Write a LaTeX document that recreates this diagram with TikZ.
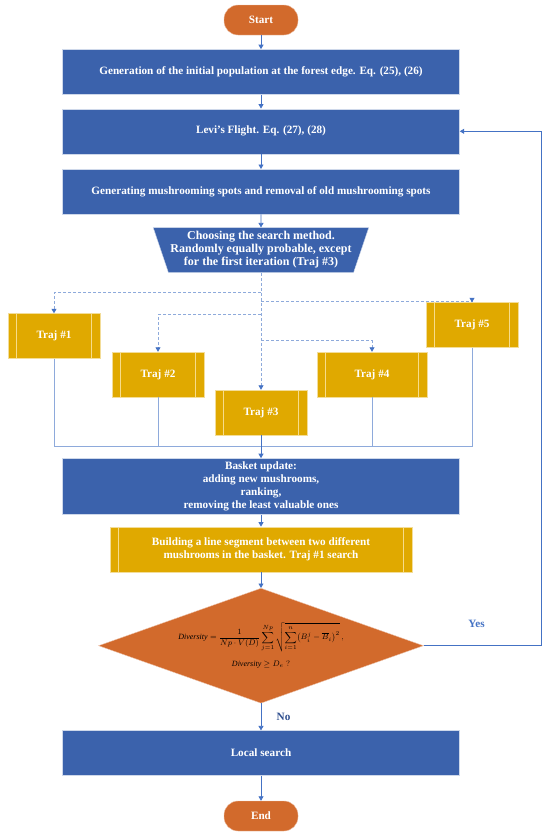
\documentclass[tikz,border=0pt]{standalone}
\usepackage{fontspec}
\setmainfont{Liberation Serif}
\usepackage{amsmath}
\usepackage{xcolor}
\usetikzlibrary{shapes,arrows.meta,positioning,calc}

\definecolor{flowblue}{HTML}{3B62AC}
\definecolor{floworange}{HTML}{D26A2C}
\definecolor{flowgold}{HTML}{E0A900}
\definecolor{lineblue}{HTML}{4472C4}
\definecolor{lightblue}{HTML}{8EAADB}
\definecolor{trajedge}{HTML}{F7DC8A}
\definecolor{nodark}{HTML}{2F4F8F}

\begin{document}
\begin{tikzpicture}[
    x=1pt, y=-1pt,
    font=\fontsize{11.2}{13}\selectfont\bfseries,
    terminal/.style={rectangle, rounded corners=14pt, fill=floworange, draw=floworange!40, text=white, minimum width=74pt, minimum height=30pt},
    process/.style={rectangle, fill=flowblue, draw=flowblue!25, text=white, minimum width=397pt, minimum height=45pt, align=center, inner sep=2pt},
    choice/.style={trapezium, trapezium stretches=true, shape border rotate=180, trapezium angle=68, fill=flowblue, draw=flowblue!25, text=white, minimum width=216pt, minimum height=45pt, align=center, inner sep=0pt, font=\fontsize{12}{13}\selectfont\bfseries},
    trajbox/.style={rectangle, fill=flowgold, draw=flowgold!40, text=white, minimum width=92pt, minimum height=45pt, align=center,
        path picture={
            \draw[draw=trajedge, line width=0.8pt] ([xshift=8.5pt]path picture bounding box.north west) -- ([xshift=8.5pt]path picture bounding box.south west);
            \draw[draw=trajedge, line width=0.8pt] ([xshift=-8.5pt]path picture bounding box.north east) -- ([xshift=-8.5pt]path picture bounding box.south east);}},
    decision/.style={diamond, fill=floworange, draw=floworange!40, aspect=2.83, minimum width=325pt, minimum height=115pt, inner sep=0pt, align=center, font=\footnotesize},
    arrow/.style={-{Triangle[width=5pt,length=4.5pt]}, draw=lineblue, line width=0.8pt},
    dashline/.style={-{Triangle[width=5pt,length=4.5pt,color=lineblue]}, draw=lightblue, dash pattern=on 3pt off 2pt, line width=0.8pt},
    joinline/.style={draw=lightblue, line width=0.8pt}
]
    \useasboundingbox (0,0) rectangle (550,835);

    % Start
    \node[terminal] (start) at (261,20) {Start};

    % Main steps
    \node[process, below=14pt of start] (init) {Generation of the initial population at the forest edge. Eq. (25), (26)};
    \node[process, below=14pt of init] (levi) {Levi’s Flight. Eq. (27), (28)};
    \node[process, below=15pt of levi] (spots) {Generating mushrooming spots and removal of old mushrooming spots};

    % Search method
    \node[choice, below=13pt of spots] (choose) {Choosing the search method.\\Randomly equally probable, except\\for the first iteration (Traj \#3)};

    % Trajectories
    \node[trajbox] (traj1) at (54,336) {Traj \#1};
    \node[trajbox] (traj2) at (158,374.5) {Traj \#2};
    \node[trajbox] (traj3) at (261,412.5) {Traj \#3};
    \node[trajbox, minimum width=110pt] (traj4) at (372,374.5) {Traj \#4};
    \node[trajbox] (traj5) at (472,325) {Traj \#5};

    % Basket
    \node[process, minimum height=56pt, below=23pt of traj3] (basket) {Basket update:\\adding new mushrooms,\\ranking,\\removing the least valuable ones};
    \node[trajbox, minimum width=302pt, below=12pt of basket] (segment) {Building a line segment between two different\\mushrooms in the basket. Traj \#1 search};

    % Diversity check
    \node[decision, below=16pt of segment] (diversity) {$\displaystyle \mathit{Diversity}=\frac{1}{Np\cdot V(D)}\sum_{j=1}^{Np}\sqrt{\sum_{i=1}^{n}\bigl(B_i^j-\overline{B}_i\bigr)^2}\,,$\\[8pt]$\mathit{Diversity}\geq D_e\;?$};

    % End
    \node[process, below=27pt of diversity] (local) {Local search};
    \node[terminal, below=25pt of local] (end) {End};

    % Fork points
    \coordinate (fork1) at ($(choose.south)+(0,20)$);
    \coordinate (fork5) at ($(choose.south)+(0,29)$);
    \coordinate (fork2) at ($(choose.south)+(0,42)$);
    \coordinate (fork4) at ($(choose.south)+(0,68)$);
    \coordinate (join) at ($(traj3.south)+(0,11)$);

    % Arrows
    \draw[arrow] (start) -- (init);
    \draw[arrow] (init) -- (levi);
    \draw[arrow] (levi) -- (spots);
    \draw[arrow] (spots) -- (choose);
    \draw[dashline] (choose.south) -- (traj3.north);
    \draw[dashline] (fork1) -| (traj1.north);
    \draw[dashline] (fork5) -| (traj5.north);
    \draw[dashline] (fork2) -| (traj2.north);
    \draw[dashline] (fork4) -| (traj4.north);
    \draw[joinline] (traj1.south) |- (join);
    \draw[joinline] (traj5.south) |- (join);
    \draw[joinline] (traj2.south) -- (traj2.south |- join);
    \draw[joinline] (traj4.south) -- (traj4.south |- join);
    \draw[arrow] (traj3.south) -- (basket.north);
    \draw[arrow] (basket) -- (segment);
    \draw[arrow] (segment) -- (diversity);
    \draw[arrow] (diversity.east) -- node[pos=0.45, above=14pt, text=lineblue] {Yes} ++(117.5,0) |- (levi.east);
    \draw[arrow] (diversity.south) -- node[right=12pt, text=nodark] {No} (local.north);
    \draw[arrow] (local) -- (end);
\end{tikzpicture}
\end{document}
